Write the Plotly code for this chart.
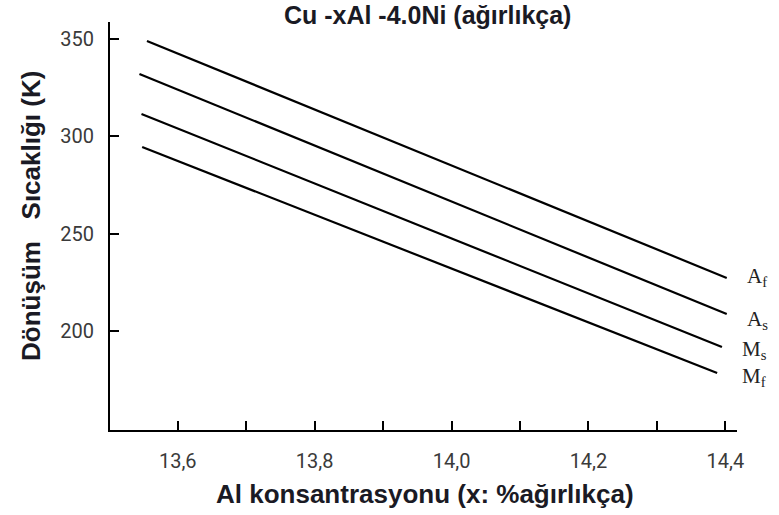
import plotly.graph_objects as go

# Transformation temperatures of Cu-xAl-4.0Ni vs. Al content (wt.%)
al_conc = {
    "Af": [13.555, 14.402],
    "As": [13.544, 14.402],
    "Ms": [13.547, 14.395],
    "Mf": [13.548, 14.388],
}
temps = {
    "Af": [348.8, 227.4],
    "As": [331.9, 208.9],
    "Ms": [311.4, 192.0],
    "Mf": [294.5, 178.7],
}
series_labels = {
    "Af": "A<sub>f</sub>",
    "As": "A<sub>s</sub>",
    "Ms": "M<sub>s</sub>",
    "Mf": "M<sub>f</sub>",
}

x_tickvals = [13.6, 13.8, 14.0, 14.2, 14.4]
x_ticktext = ["13,6", "13,8", "14,0", "14,2", "14,4"]
x_minor_tickvals = [13.7, 13.9, 14.1, 14.3]
y_tickvals = [200, 250, 300, 350]
y_ticktext = ["200", "250", "300", "350"]

# label offsets (px) from each line's right end
label_shift = {"Af": (18, 1), "As": (18, -6), "Ms": (18, -3), "Mf": (23, -4)}

fig = go.Figure()
for key in ["Af", "As", "Ms", "Mf"]:
    fig.add_trace(go.Scatter(
        x=al_conc[key], y=temps[key], mode="lines",
        line=dict(color="black", width=2.2), showlegend=False,
        hoverinfo="skip",
    ))
    dx, dy = label_shift[key]
    fig.add_annotation(
        x=al_conc[key][-1], y=temps[key][-1], xref="x", yref="y",
        text=series_labels[key], showarrow=False,
        xanchor="left", yanchor="middle", xshift=dx, yshift=dy,
        font=dict(family="Liberation Serif", size=21, color="#222"),
    )

tick_font = dict(family="Roboto", size=20, color="#3a3a3a")
fig.update_xaxes(
    range=[13.501, 14.417], showgrid=False, zeroline=False,
    showline=True, linecolor="black", linewidth=2,
    ticks="inside", ticklen=9, tickwidth=2, tickcolor="black",
    tickvals=x_tickvals, ticktext=x_ticktext, tickfont=tick_font,
    minor=dict(tickvals=x_minor_tickvals, ticks="inside", ticklen=9,
               tickwidth=2, tickcolor="black", showgrid=False),
    ticklabelstandoff=12, automargin=False,
)
fig.update_yaxes(
    range=[149.5, 358.5], showgrid=False, zeroline=False,
    showline=True, linecolor="black", linewidth=2,
    ticks="inside", ticklen=9, tickwidth=2, tickcolor="black",
    tickvals=y_tickvals, ticktext=y_ticktext, tickfont=tick_font,
    ticklabelstandoff=10, automargin=False,
)

axis_title_font = dict(family="Liberation Sans", size=26, color="#1a1a24")
fig.add_annotation(
    text="<b>Al konsantrasyonu (x: %ağırlıkça)</b>", xref="paper", yref="paper",
    x=0.503, y=-0.157, xanchor="center", yanchor="middle",
    showarrow=False, font=axis_title_font,
)
fig.add_annotation(
    text="<b>Dönüşüm\u00a0\u00a0\u00a0Sıcaklığı (K)</b>", xref="paper", yref="paper",
    x=-0.126, y=0.5245, xanchor="center", yanchor="middle", textangle=-90,
    showarrow=False, font=dict(family="Liberation Sans", size=26, color="#1a1a24"),
)

fig.update_layout(
    width=779, height=515,
    margin=dict(l=110, r=42, t=22, b=85),
    paper_bgcolor="white", plot_bgcolor="white",
    title=dict(
        text="<b>Cu -xAl -4.0Ni (ağırlıkça)</b>", x=0.549, y=0.970,
        xanchor="center", yanchor="middle", xref="container", yref="container",
        font=dict(family="Liberation Sans", size=25, color="#1a1a24"),
    ),
)

fig.write_html("out.html")
